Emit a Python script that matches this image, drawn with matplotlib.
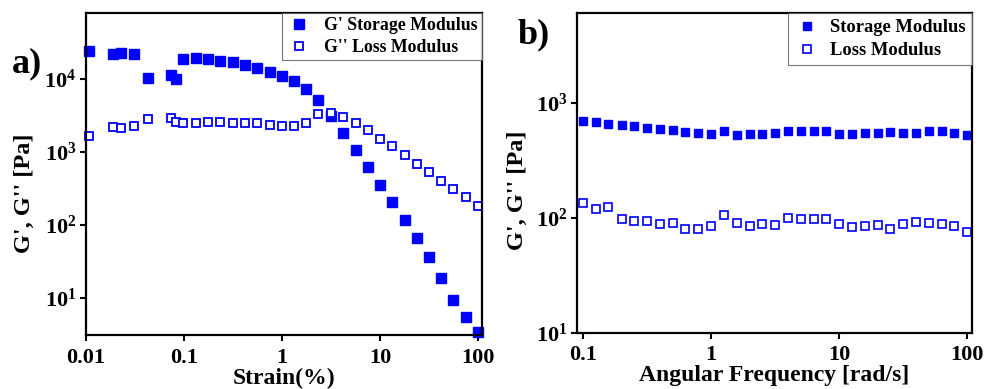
import matplotlib
matplotlib.use("Agg")
import matplotlib.pyplot as plt
from matplotlib.ticker import FixedLocator, NullLocator

plt.rcParams['font.family'] = ['Liberation Serif', 'DejaVu Serif']
plt.rcParams['font.weight'] = 'bold'
plt.rcParams['mathtext.fontset'] = 'custom'
plt.rcParams['mathtext.rm'] = 'Liberation Serif:bold'
plt.rcParams['mathtext.bf'] = 'Liberation Serif:bold'
plt.rcParams['mathtext.it'] = 'Liberation Serif:bold'

# ---------------- data: panel a (amplitude sweep) ----------------
strain = [0.0107, 0.0187, 0.0228, 0.0309, 0.0426, 0.0736, 0.0822, 0.097,
          0.132, 0.177, 0.233, 0.314, 0.419, 0.56, 0.755, 1.0, 1.33, 1.76,
          2.35, 3.16, 4.23, 5.69, 7.48, 10.0, 13.4, 17.9, 23.6, 31.6, 41.9,
          56.0, 74.8, 99.0]
storage_a = [23800, 21900, 22600, 22100, 10200, 11400, 10100, 18900,
             19300, 18600, 17700, 16800, 15600, 14000, 12600, 11100, 9380,
             7270, 5130, 3090, 1820, 1070, 630, 356, 207, 116, 67, 36, 18.6,
             9.3, 5.4, 3.45]
loss_a = [1650, 2200, 2130, 2270, 2800, 2870, 2570, 2500, 2500, 2550, 2550,
          2520, 2520, 2450, 2320, 2250, 2250, 2520, 3260, 3370, 3020, 2450,
          1980, 1520, 1190, 895, 687, 538, 404, 311, 238, 183]

# ---------------- data: panel b (frequency sweep) ----------------
freq = [0.1, 0.126, 0.158, 0.2, 0.251, 0.316, 0.398, 0.501, 0.631, 0.794,
        1.0, 1.26, 1.58, 2.0, 2.51, 3.16, 3.98, 5.01, 6.31, 7.94, 10.0,
        12.6, 15.8, 20.0, 25.1, 31.6, 39.8, 50.1, 63.1, 79.4, 100.0]
storage_b = [702, 679, 657, 640, 631, 606, 594, 582, 560, 552, 537, 574, 530,
             537, 537, 552, 571, 571, 571, 571, 535, 535, 545, 545, 560, 545,
             548, 567, 567, 552, 530]
loss_b = [136, 120, 125, 98, 94.8, 94.8, 88.7, 90, 80.8, 79.8, 85, 106, 91,
          85, 89, 87.5, 100, 98, 98, 98.6, 88.7, 84, 85, 87.5, 80.8, 88.7,
          91.9, 90.6, 88.7, 85, 75.5]

xticks_a = [0.01, 0.1, 1, 10, 100]
xticklabels_a = ['0.01', '0.1', '1', '10', '100']
yticks_a = [10, 100, 1000, 10000]
yticklabels_a = [r'$\mathbf{10^{1}}$', r'$\mathbf{10^{2}}$', r'$\mathbf{10^{3}}$', r'$\mathbf{10^{4}}$']
xticks_b = [0.1, 1, 10, 100]
xticklabels_b = ['0.1', '1', '10', '100']
yticks_b = [10, 100, 1000]
yticklabels_b = [r'$\mathbf{10^{1}}$', r'$\mathbf{10^{2}}$', r'$\mathbf{10^{3}}$']

labels_a = ["G' Storage Modulus", "G'' Loss Modulus"]
labels_b = ["Storage Modulus", "Loss Modulus"]

BLUE = '#0000FF'

fig = plt.figure(figsize=(9.87, 3.89), dpi=100)
axA = fig.add_axes([0.0871, 0.1388, 0.4013, 0.8278])
axB = fig.add_axes([0.5846, 0.1440, 0.4002, 0.8226])


def style(ax, xt, xtl, yt, ytl, xlim, ylim, xlabel, ylab_xy):
    ax.set_xscale('log')
    ax.set_yscale('log')
    ax.set_xlim(*xlim)
    ax.set_ylim(*ylim)
    ax.xaxis.set_major_locator(FixedLocator(xt))
    ax.yaxis.set_major_locator(FixedLocator(yt))
    ax.xaxis.set_minor_locator(NullLocator())
    ax.yaxis.set_minor_locator(NullLocator())
    ax.set_xticklabels(xtl)
    ax.set_yticklabels(ytl)
    ax.tick_params(axis='both', which='major', direction='out', length=4,
                   width=1.5, labelsize=16)
    ax.tick_params(axis='x', pad=5)
    ax.tick_params(axis='y', pad=3)
    for s in ax.spines.values():
        s.set_linewidth(1.6)
    ax.set_xlabel(xlabel, fontsize=17, fontweight='bold', labelpad=0)
    ax.set_ylabel("G', G'' [Pa]", fontsize=17.5, fontweight='bold')
    ax.yaxis.set_label_coords(*ylab_xy)


ms = 6.8
axA.plot(strain, storage_a, 's', color=BLUE, ms=ms, mec=BLUE, label=labels_a[0], clip_on=False)
axA.plot(strain, loss_a, 's', mfc='white', mec=BLUE, mew=1.3, ms=ms - 0.5,
         label=labels_a[1], clip_on=False)
style(axA, xticks_a, xticklabels_a, yticks_a, yticklabels_a, (0.01, 110),
      (3.1, 80000), 'Strain(%)', (-0.128, 0.44))
legA = axA.legend(loc='upper right', borderaxespad=0, fancybox=False,
                  edgecolor='#555555', prop={'weight': 'bold', 'size': 12.8},
                  handletextpad=0.7, borderpad=0.25, labelspacing=0.25,
                  handlelength=1.4)
legA.get_frame().set_linewidth(0.8)

ms2 = 5.5
axB.plot(freq, storage_b, 's', color=BLUE, ms=ms2, mec=BLUE, label=labels_b[0], clip_on=False)
axB.plot(freq, loss_b, 's', mfc='white', mec=BLUE, mew=1.2, ms=ms2 - 0.3,
         label=labels_b[1], clip_on=False)
style(axB, xticks_b, xticklabels_b, yticks_b, yticklabels_b, (0.0898, 109),
      (10, 6070), 'Angular Frequency [rad/s]', (-0.124, 0.447))
legB = axB.legend(loc='upper right', borderaxespad=0, fancybox=False,
                  edgecolor='#555555', prop={'weight': 'bold', 'size': 13.3},
                  handletextpad=0.6, borderpad=0.35, labelspacing=0.3,
                  handlelength=1.3)
legB.get_frame().set_linewidth(0.8)

fig.text(0.012, 0.815, 'a)', fontsize=26, fontweight='bold')
fig.text(0.524, 0.889, 'b)', fontsize=26, fontweight='bold')

fig.savefig('out.png', dpi=100)
